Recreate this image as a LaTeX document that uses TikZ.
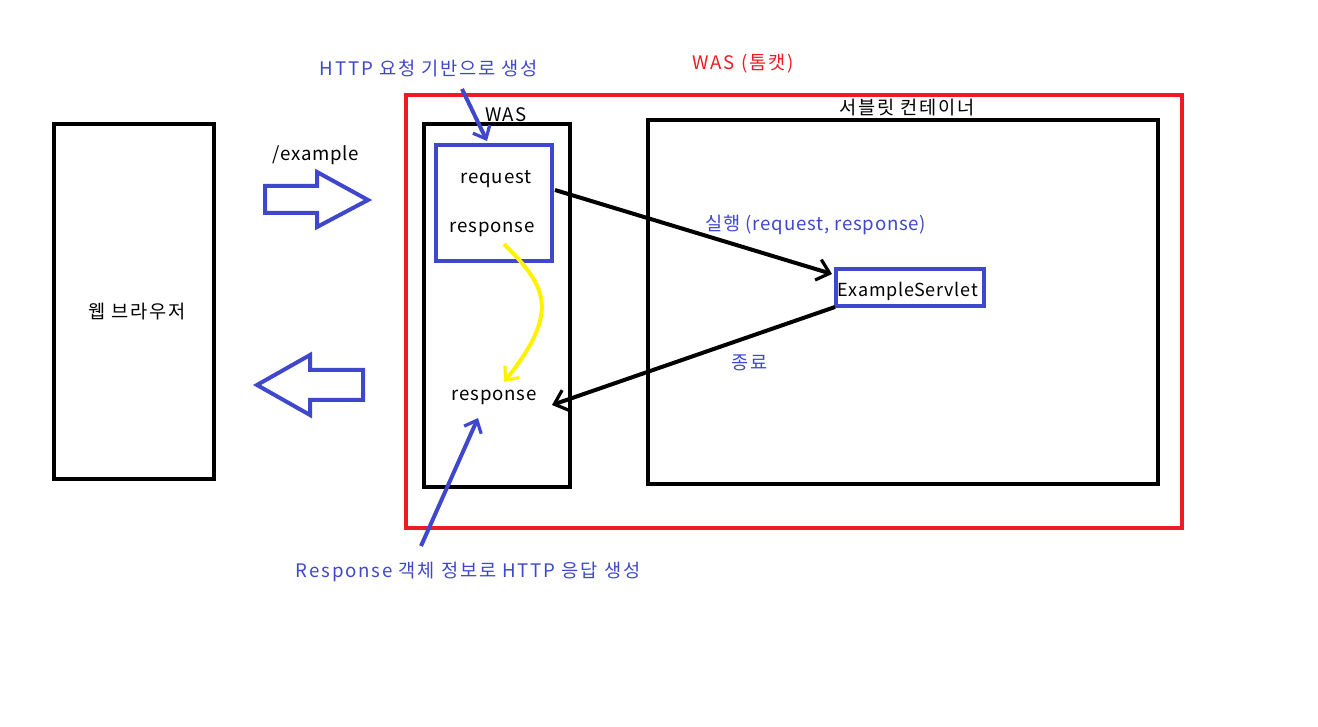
\documentclass[tikz,border=0pt]{standalone}
\usepackage{fontspec}
\setmainfont{Noto Sans CJK KR}[LetterSpace=4]
\newfontfamily\krwide{Noto Sans CJK KR}[LetterSpace=10]
\newfontfamily\krmid{Noto Sans CJK KR}[LetterSpace=6]
\usetikzlibrary{arrows.meta}
\definecolor{wred}{HTML}{ED1C24}
\definecolor{wblue}{HTML}{3F48CC}
\definecolor{wyellow}{HTML}{FFF200}
\begin{document}
\begin{tikzpicture}[x=0.75pt,y=-0.75pt,
  every node/.style={font=\fontsize{14pt}{16pt}\selectfont, inner sep=0pt},
  txt/.style={yshift=-2.5pt},
  kr/.style={txt, font=\fontsize{14pt}{16pt}\krwide},
  krm/.style={txt, font=\fontsize{14pt}{16pt}\krmid},
  bbox/.style={draw=black, line width=3pt},
  rbox/.style={draw=wred, line width=3pt},
  ubox/.style={draw=wblue, line width=3pt},
  btxt/.style={text=wblue},
  conn/.style={line width=3pt, -{Straight Barb[length=9pt,width=16pt,line width=2.4pt]}},
  blockarrow/.style={draw=wblue, line width=3pt, line join=miter}
]
\useasboundingbox (0,0) rectangle (1318,727);
% boxes
\node[bbox, minimum width=160*0.75pt, minimum height=355*0.75pt] (browser) at (134,301.5) {};
\node[kr] at (137,308) (browsertxt) {웹 브라우저};
\node[rbox, minimum width=776*0.75pt, minimum height=433*0.75pt] (tomcat) at (794,311.5) {};
\node[kr, text=wred] (tomcatlbl) at (743,60) {WAS (톰캣)};
\node[bbox, minimum width=146*0.75pt, minimum height=363*0.75pt] (was) at (497,305.5) {};
\node[txt] (waslbl) at (506,111) {WAS};
\node[bbox, minimum width=510*0.75pt, minimum height=364*0.75pt] (container) at (903,302) {};
\node[kr] (containerlbl) at (907,104) {서블릿 컨테이너};
\node[ubox, minimum width=116*0.75pt, minimum height=116*0.75pt] (reqbox) at (494,203) {};
\node[txt] (req) at (496,176) {request};
\node[txt] (resp1) at (492,226) {response};
\node[ubox, minimum width=148*0.75pt, minimum height=37*0.75pt] (servlet) at (910,287.5) {};
\node[txt, font=\fontsize{13.5pt}{16pt}\selectfont] (servlettxt) at (908,288) {ExampleServlet};
\node[txt] (resp2) at (494,394) {response};
\node[txt] (example) at (316,152) {/example};
\node[kr, btxt] (httplbl) at (429,65) {HTTP 요청 기반으로 생성};
\node[txt, btxt] (execlbl) at (816,222) {실행 (request, response)};
\node[kr, btxt] (endlbl) at (750,360) {종료};
\node[kr, btxt] (resplbl) at (468,569) {Response 객체 정보로 HTTP 응답 생성};
% block arrows
\draw[blockarrow] (265,186) -- (317,186) -- (317,172) -- (368,200) -- (317,227) -- (317,213) -- (265,213) -- cycle;
\draw[blockarrow] (363,370) -- (310,370) -- (310,355) -- (257,385) -- (310,415) -- (310,400) -- (363,400) -- cycle;
% connectors
\coordinate (c1) at (555,190);
\coordinate (c2) at (832,274);
\draw[conn] (c1) -- (c2);
\coordinate (c3) at (835,307);
\coordinate (c4) at (552,405);
\draw[conn] (c3) -- (c4);
\coordinate (y1) at (504,244);
\coordinate (y2) at (504,382);
\draw[wyellow, line width=3pt, -{Straight Barb[length=8pt,width=14pt,line width=2.4pt]}] (y1) .. controls (545,285) and (562,310) .. (y2);
\coordinate (h1) at (462,89);
\coordinate (h2) at (487,141);
\draw[wblue, line width=3pt, -{Straight Barb[length=8pt,width=14pt,line width=2.4pt]}] (h1) -- (h2);
\coordinate (r1) at (421,546);
\coordinate (r2) at (478,418);
\draw[wblue, line width=3pt, -{Straight Barb[length=8pt,width=14pt,line width=2.4pt]}] (r1) -- (r2);
\end{tikzpicture}
\end{document}
